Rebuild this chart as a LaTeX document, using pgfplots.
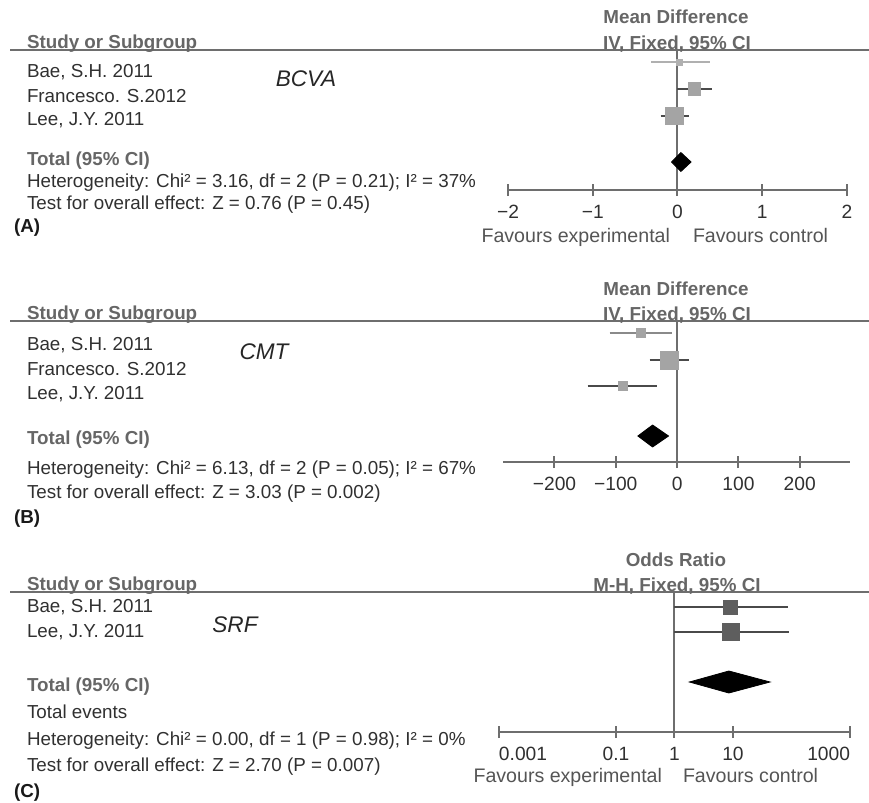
\documentclass[border=0pt]{standalone}
\usepackage{pgfplots}
\pgfplotsset{compat=1.18}
\usepackage{fontspec}
\setmainfont{Liberation Sans}
\definecolor{txt}{HTML}{303030}
\definecolor{hdr}{HTML}{666666}
\definecolor{axc}{HTML}{6E6E6E}
\definecolor{fav}{HTML}{555555}
\definecolor{sqA}{HTML}{A4A4A4}
\definecolor{sqC}{HTML}{5E5E5E}
\definecolor{ciLight}{HTML}{B0B0B0}
\definecolor{ciMid}{HTML}{8A8A8A}
\definecolor{ciDark}{HTML}{4A4A4A}
\newcommand{\tf}{\fontsize{9.4}{11}\selectfont}
\newcommand{\ff}{\fontsize{9.8}{11}\selectfont}
\newcommand{\lf}{\fontsize{11.3}{13}\selectfont\itshape}
\pgfplotsset{
  forest/.style={
    scale only axis, clip=false,
    axis y line=none, axis x line*=bottom,
    x axis line style={-, draw=axc, line width=1pt},
    tick align=center, major tick length=6pt,
    xtick style={draw=axc, line width=1pt},
    xticklabel style={font=\fontsize{9.6}{10}\selectfont, text=txt, anchor=north, yshift=-1pt},
    minor tick num=0,
  },
  ci/.style={line width=1pt, mark=none},
  sq/.style={only marks, mark=square*},
}
\begin{document}
\begin{tikzpicture}
\useasboundingbox (0,0) rectangle (434.5pt,-401.5pt);

% ---------- Panel A ----------
\begin{axis}[forest, at={(254pt,-95pt)}, anchor=south west,
  width=169.5pt, height=70pt, xmin=-2, xmax=2, ymin=-190, ymax=-50,
  xtick={-2,-1,0,1,2}, xticklabels={−2,−1,0,1,2}]
  \draw[axc, line width=1pt] (axis cs:0,-50) -- (axis cs:0,-190);
  \addplot[ci, color=ciLight] coordinates {(-0.31,-62) (0.38,-62)};
  \addplot[sq, mark size=1.5pt, color=ciLight] coordinates {(0.02,-62)};
  \addplot[ci, color=ciDark] coordinates {(0.0,-89) (0.41,-89)};
  \addplot[sq, mark size=3.2pt, color=sqA] coordinates {(0.20,-89)};
  \addplot[ci, color=ciDark] coordinates {(-0.20,-116) (0.13,-116)};
  \addplot[sq, mark size=4.4pt, color=sqA] coordinates {(-0.04,-116)};
  \addplot[fill=black, draw=black] coordinates {(-0.07,-162) (0.04,-152.5) (0.16,-162) (0.04,-171.5)} -- cycle;
\end{axis}

% ---------- Panel B ----------
\begin{axis}[forest, at={(251.5pt,-231pt)}, anchor=south west,
  width=173.5pt, height=70.5pt, xmin=-284, xmax=282, ymin=-462, ymax=-321,
  xtick={-200,-100,0,100,200}, xticklabels={−200,−100,0,100,200}]
  \draw[axc, line width=1pt] (axis cs:0,-321) -- (axis cs:0,-462);
  \addplot[ci, color=ciMid] coordinates {(-110,-333) (-9,-333)};
  \addplot[sq, mark size=2.2pt, color=sqA] coordinates {(-59,-333)};
  \addplot[ci, color=ciDark] coordinates {(-45,-360) (20,-360)};
  \addplot[sq, mark size=4.5pt, color=sqA] coordinates {(-12.5,-360)};
  \addplot[ci, color=ciDark] coordinates {(-146,-386) (-32,-386)};
  \addplot[sq, mark size=2.2pt, color=sqA] coordinates {(-89,-386)};
  \addplot[fill=black, draw=black] coordinates {(-64,-436) (-40,-425) (-14,-436) (-40,-447)} -- cycle;
\end{axis}

% ---------- Panel C ----------
\begin{axis}[forest, xmode=log, at={(249.5pt,-366pt)}, anchor=south west,
  width=175.5pt, height=70pt, xmin=0.001, xmax=1000, ymin=-732, ymax=-592,
  xtick={0.001,0.1,1,10,1000}, xticklabels={\rlap{0.001},0.1,1,10,\llap{1000}}]
  \draw[axc, line width=1pt] (axis cs:1,-592) -- (axis cs:1,-732);
  \addplot[ci, line width=0.8pt, color=ciDark] coordinates {(1,-607) (87,-607)};
  \addplot[sq, mark size=3.5pt, color=sqC] coordinates {(8.9,-607)};
  \addplot[ci, line width=0.8pt, color=ciDark] coordinates {(1,-632) (89,-632)};
  \addplot[sq, mark size=4.3pt, color=sqC] coordinates {(9.3,-632)};
  \addplot[fill=black, draw=black] coordinates {(1.8,-682) (8.5,-671) (43,-682) (8.5,-693)} -- cycle;
\end{axis}

\begin{scope}[x=0.5pt, y=-0.5pt, every node/.style={inner sep=0pt, outer sep=0pt}]
  % header lines
  \draw[axc, line width=1pt] (10,50) -- (869,50);
  \draw[axc, line width=1pt] (10,321) -- (869,321);
  \draw[axc, line width=1pt] (10,592) -- (869,592);

  % ---- Panel A text ----
  \node[anchor=base west, text=hdr] at (27,48) {\tf\bfseries Study or Subgroup};
  \node[anchor=base, text=hdr] at (676,24) {\tf\bfseries Mean Difference};
  \node[anchor=base, text=hdr] at (677,49) {\tf\bfseries IV, Fixed, 95\% CI};
  \node[anchor=base west, text=txt] at (27,77) {\tf Bae, S.H. 2011};
  \node[anchor=base west, text=txt] at (27,102) {\tf Francesco. S.2012};
  \node[anchor=base west, text=txt] at (27,126) {\tf Lee, J.Y. 2011};
  \node[anchor=center, text=black!85] at (306,79) {\lf BCVA};
  \node[anchor=base west, text=hdr] at (27,165) {\tf\bfseries Total (95\% CI)};
  \node[anchor=base west, text=txt] at (27,187) {\tf Heterogeneity: Chi² = 3.16, df = 2 (P = 0.21); I² = 37\%};
  \node[anchor=base west, text=txt] at (27,209) {\tf Test for overall effect: Z = 0.76 (P = 0.45)};
  \node[anchor=base west, text=black!90] at (14,232) {\tf\bfseries (A)};
  \node[anchor=base east, text=fav] at (670,242) {\ff Favours experimental};
  \node[anchor=base west, text=fav] at (693,242) {\ff Favours control};

  % ---- Panel B text ----
  \node[anchor=base west, text=hdr] at (27,319) {\tf\bfseries Study or Subgroup};
  \node[anchor=base, text=hdr] at (676,295) {\tf\bfseries Mean Difference};
  \node[anchor=base, text=hdr] at (677,320) {\tf\bfseries IV, Fixed, 95\% CI};
  \node[anchor=base west, text=txt] at (27,350) {\tf Bae, S.H. 2011};
  \node[anchor=base west, text=txt] at (27,375) {\tf Francesco. S.2012};
  \node[anchor=base west, text=txt] at (27,399) {\tf Lee, J.Y. 2011};
  \node[anchor=center, text=black!85] at (264,352) {\lf CMT};
  \node[anchor=base west, text=hdr] at (27,444) {\tf\bfseries Total (95\% CI)};
  \node[anchor=base west, text=txt] at (27,474) {\tf Heterogeneity: Chi² = 6.13, df = 2 (P = 0.05); I² = 67\%};
  \node[anchor=base west, text=txt] at (27,498) {\tf Test for overall effect: Z = 3.03 (P = 0.002)};
  \node[anchor=base west, text=black!90] at (14,523) {\tf\bfseries (B)};

  % ---- Panel C text ----
  \node[anchor=base west, text=hdr] at (27,590) {\tf\bfseries Study or Subgroup};
  \node[anchor=base, text=hdr] at (676,566) {\tf\bfseries Odds Ratio};
  \node[anchor=base, text=hdr] at (677,591) {\tf\bfseries M-H, Fixed, 95\% CI};
  \node[anchor=base west, text=txt] at (27,612) {\tf Bae, S.H. 2011};
  \node[anchor=base west, text=txt] at (27,637) {\tf Lee, J.Y. 2011};
  \node[anchor=center, text=black!85] at (235,625) {\lf SRF};
  \node[anchor=base west, text=hdr] at (27,691) {\tf\bfseries Total (95\% CI)};
  \node[anchor=base west, text=txt] at (27,718) {\tf Total events};
  \node[anchor=base west, text=txt] at (27,745) {\tf Heterogeneity: Chi² = 0.00, df = 1 (P = 0.98); I² = 0\%};
  \node[anchor=base west, text=txt] at (27,771) {\tf Test for overall effect: Z = 2.70 (P = 0.007)};
  \node[anchor=base west, text=black!90] at (14,797) {\tf\bfseries (C)};
  \node[anchor=base east, text=fav] at (662,782) {\ff Favours experimental};
  \node[anchor=base west, text=fav] at (683,782) {\ff Favours control};
\end{scope}
\end{tikzpicture}
\end{document}
